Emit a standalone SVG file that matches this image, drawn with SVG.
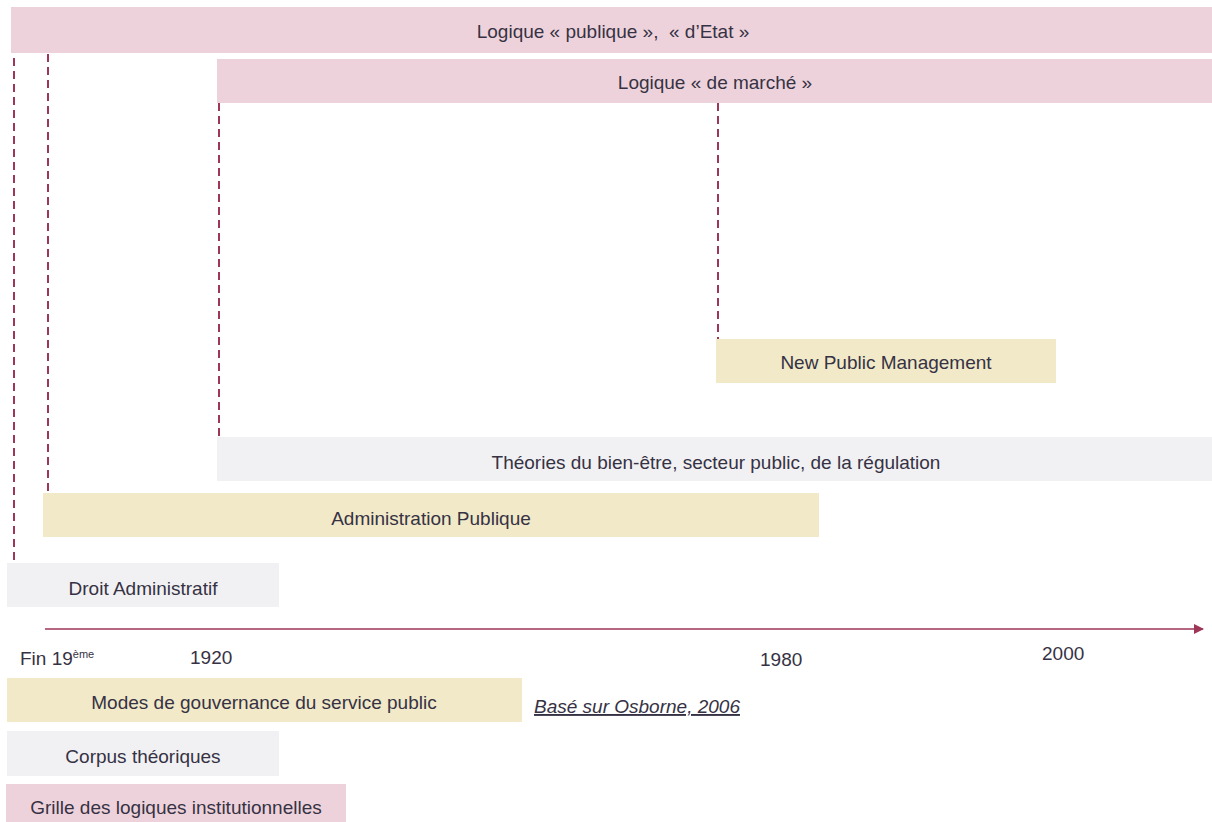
<svg xmlns="http://www.w3.org/2000/svg" width="1212" height="822" viewBox="0 0 1212 822">
<defs>
<marker id="arr" viewBox="0 0 10 10" refX="9" refY="5" markerWidth="10" markerHeight="10" markerUnits="userSpaceOnUse" orient="auto"><path d="M0,0 L10,5 L0,10 z" fill="#9e3658"/></marker>
<style>
.pink{fill:#eed2db}
.beige{fill:#f1e9c8}
.gray{fill:#f1f1f3}
text{font-family:"Liberation Sans",Arial,sans-serif;font-size:19px;fill:#363244}
.c{text-anchor:middle}
.dash{stroke:#9e3658;stroke-width:2;stroke-dasharray:8,5;fill:none}
</style>
</defs>
<rect width="1212" height="822" fill="#ffffff"/>
<g id="connectors">
<line class="dash" x1="14" y1="58" x2="14" y2="566"/>
<line class="dash" x1="48" y1="54" x2="48" y2="493"/>
<line class="dash" x1="219" y1="103" x2="219" y2="437"/>
<line class="dash" x1="718" y1="103" x2="718" y2="339"/>
<line x1="45" y1="629" x2="1203" y2="629" stroke="#9e3658" stroke-width="1.5" marker-end="url(#arr)"/>
</g>
<g id="logique-publique"><rect class="pink" x="11" y="7" width="1201" height="46"/><text class="c" x="613" y="38">Logique « publique »,&#160; « d’Etat »</text></g>
<g id="logique-marche"><rect class="pink" x="217" y="59" width="995" height="44"/><text class="c" x="715" y="89">Logique « de marché »</text></g>
<g id="npm"><rect class="beige" x="716" y="339" width="340" height="44"/><text class="c" x="886" y="369">New Public Management</text></g>
<g id="theories"><rect class="gray" x="217" y="437" width="995" height="44"/><text class="c" x="716" y="469">Théories du bien-être, secteur public, de la régulation</text></g>
<g id="admin-publique"><rect class="beige" x="43" y="493" width="776" height="44"/><text class="c" x="431" y="525">Administration Publique</text></g>
<g id="droit-admin"><rect class="gray" x="7" y="563" width="272" height="44"/><text class="c" x="143" y="595">Droit Administratif</text></g>
<g id="axis-labels">
<text x="20" y="665">Fin 19<tspan font-size="11" dy="-7">ème</tspan></text>
<text x="190" y="664">1920</text>
<text x="760" y="666">1980</text>
<text x="1042" y="660">2000</text>
</g>
<g id="legend-modes"><rect class="beige" x="7" y="678" width="515" height="44"/><text class="c" x="264" y="709">Modes de gouvernance du service public</text></g>
<g id="source"><text x="534" y="713" font-style="italic" text-decoration="underline">Basé sur Osborne, 2006</text></g>
<g id="legend-corpus"><rect class="gray" x="7" y="731" width="272" height="45"/><text class="c" x="143" y="763">Corpus théoriques</text></g>
<g id="legend-grille"><rect class="pink" x="6" y="784" width="340" height="38"/><text class="c" x="176" y="814">Grille des logiques institutionnelles</text></g>
</svg>
